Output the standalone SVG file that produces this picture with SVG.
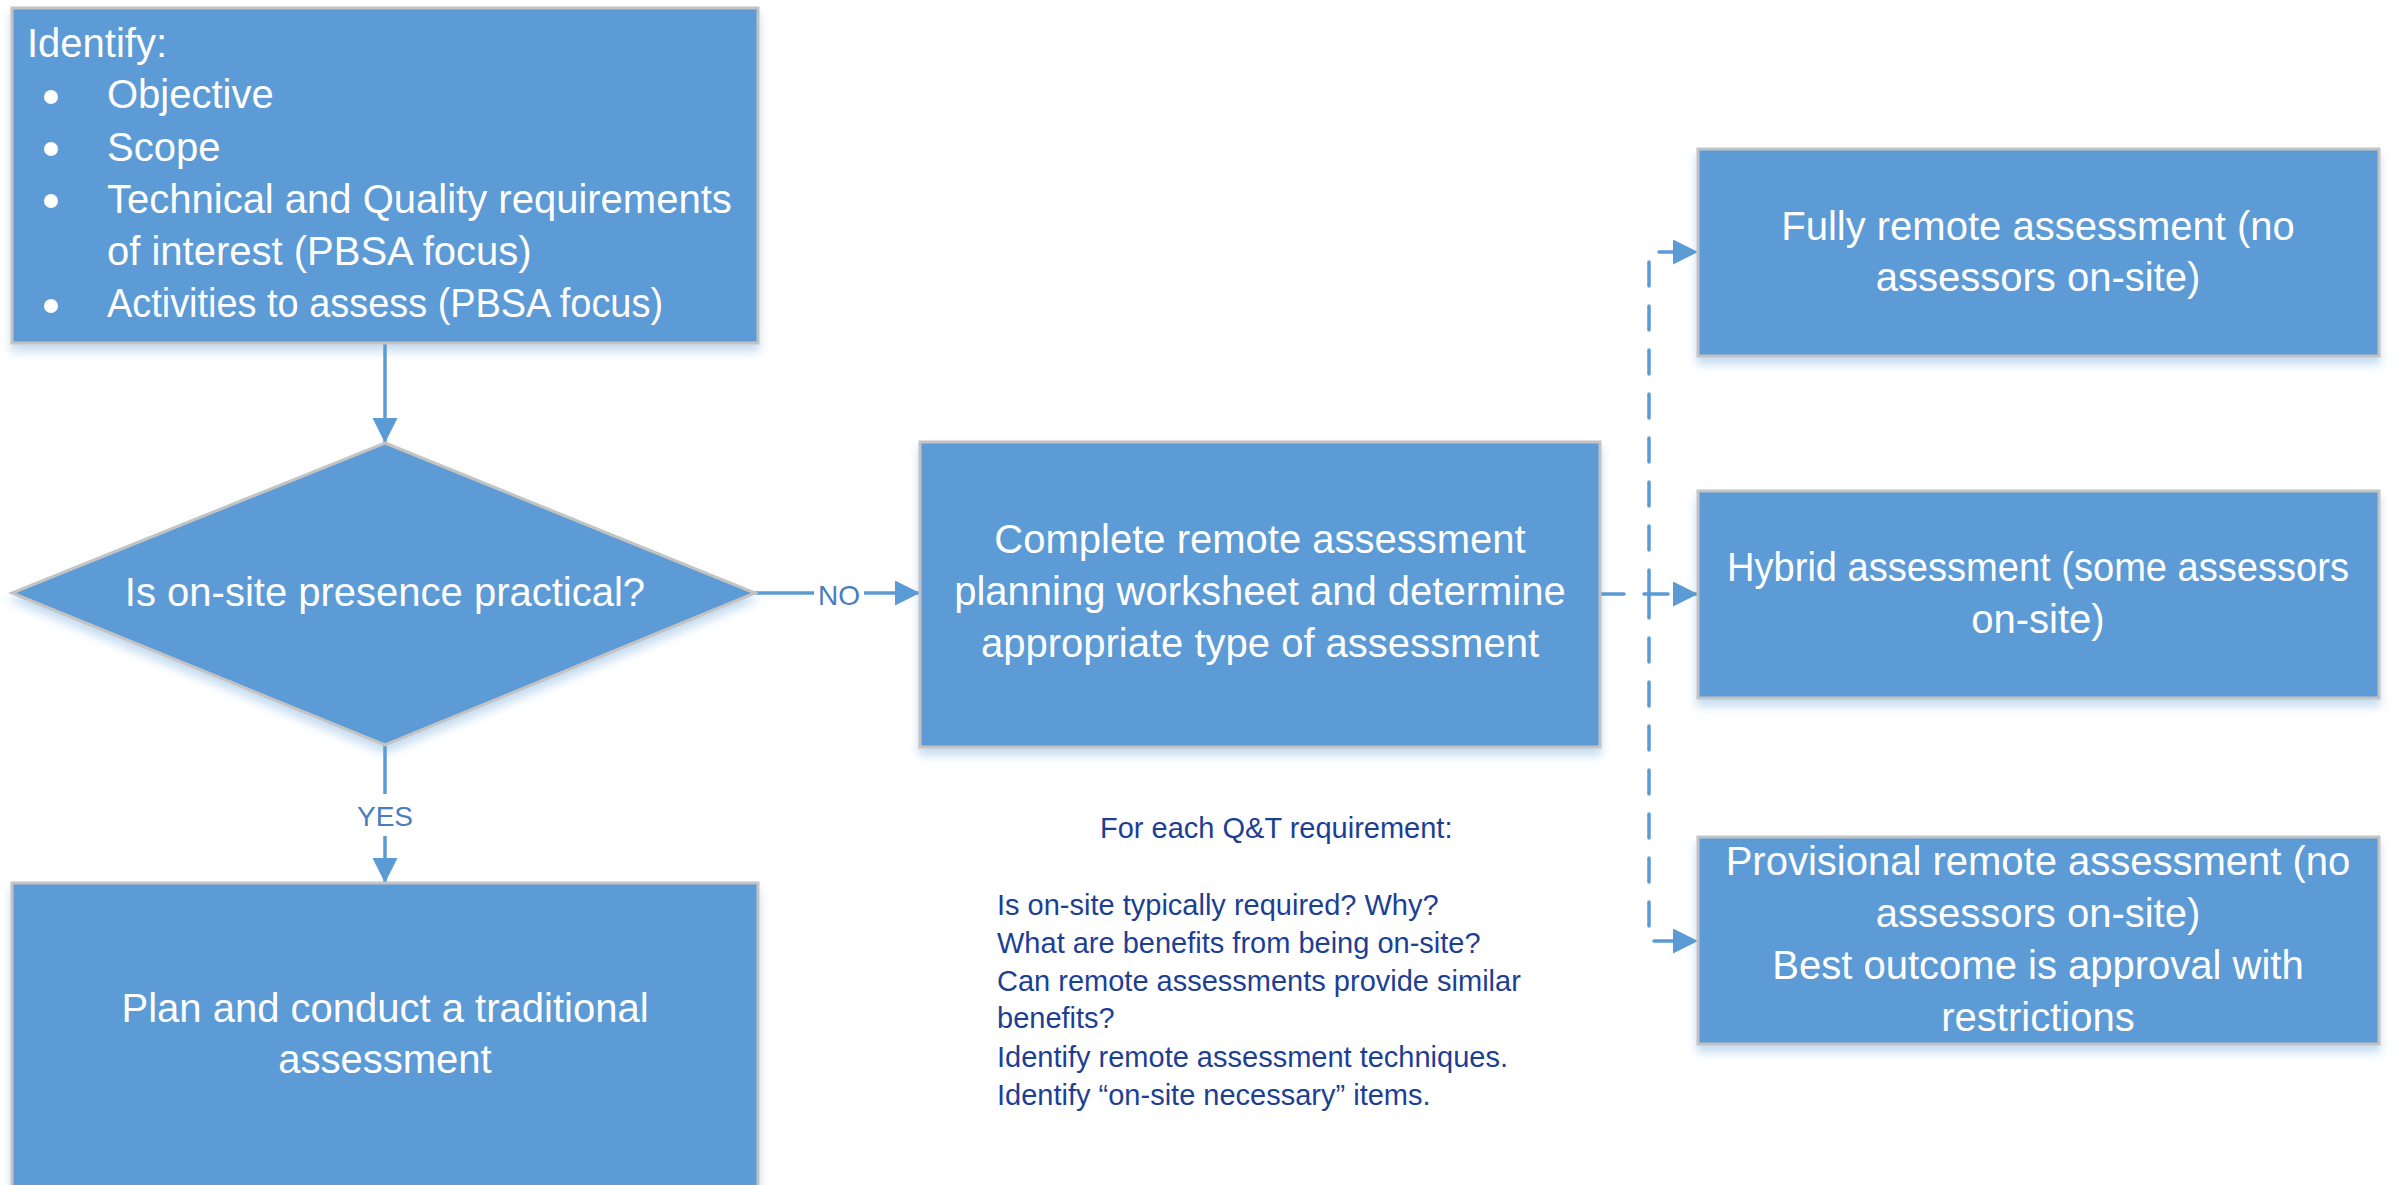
<svg xmlns="http://www.w3.org/2000/svg" width="2397" height="1185" viewBox="0 0 2397 1185">
<style>
.box{fill:#5b9bd5;stroke:#c3c3c3;stroke-width:3;filter:url(#sh)}
.t{font-family:"Liberation Sans",Arial,sans-serif;font-size:40px;fill:#ffffff}
.c{text-anchor:middle}
.ln{fill:none;stroke:#5b9bd5;stroke-width:3.5}
.dash{stroke-dasharray:24 20;stroke-linecap:round}
.lbl{font-family:"Liberation Sans",Arial,sans-serif;font-size:28px;fill:#4a7dbb;text-anchor:middle}
.note{font-family:"Liberation Sans",Arial,sans-serif;font-size:29px;fill:#1c3f94}
</style>
<defs>
<filter id="sh" x="-5%" y="-5%" width="110%" height="120%">
<feDropShadow dx="0" dy="7" stdDeviation="5" flood-color="#5b9bd5" flood-opacity="0.35"/>
</filter>
<marker id="ah" markerUnits="userSpaceOnUse" markerWidth="26" markerHeight="26" refX="25" refY="12.5" orient="auto">
<path d="M0,0 L25,12.5 L0,25 z" fill="#5b9bd5" stroke="none"/>
</marker>
</defs>
<rect width="2397" height="1185" fill="#ffffff"/>

<g id="connectors">
<path class="ln" d="M385,343 V443" marker-end="url(#ah)"/>
<path class="ln" d="M385,745 V883" marker-end="url(#ah)"/>
<rect x="352" y="794" width="66" height="42" fill="#ffffff"/>
<text class="lbl" x="385" y="826">YES</text>
<path class="ln" d="M755,593 H920" marker-end="url(#ah)"/>
<rect x="814" y="574" width="50" height="38" fill="#ffffff"/>
<text class="lbl" x="839" y="605">NO</text>
<path class="ln dash" d="M1600,594 H1698" marker-end="url(#ah)"/>
<path class="ln dash" d="M1649,594 V252 H1698" marker-end="url(#ah)"/>
<path class="ln dash" d="M1649,594 V941 H1698" marker-end="url(#ah)"/>
</g>

<g id="identify">
<rect class="box" x="12" y="8" width="746" height="335"/>
<text class="t" x="27" y="57">Identify:</text>
<circle cx="51" cy="97" r="7" fill="#ffffff"/>
<circle cx="51" cy="149" r="7" fill="#ffffff"/>
<circle cx="51" cy="201" r="7" fill="#ffffff"/>
<circle cx="51" cy="306" r="7" fill="#ffffff"/>
<text class="t" x="107" y="108">Objective</text>
<text class="t" x="107" y="161">Scope</text>
<text class="t" x="107" y="213">Technical and Quality requirements</text>
<text class="t" x="107" y="265">of interest (PBSA focus)</text>
<text class="t" x="107" y="317" textLength="556" lengthAdjust="spacingAndGlyphs">Activities to assess (PBSA focus)</text>
</g>

<g id="decision">
<polygon class="box" points="385,443 755,593 385,745 12,593"/>
<text class="t c" x="385" y="606">Is on-site presence practical?</text>
</g>

<g id="traditional">
<rect class="box" x="12" y="883" width="746" height="330"/>
<text class="t c" x="385" y="1022">Plan and conduct a traditional</text>
<text class="t c" x="385" y="1073">assessment</text>
</g>

<g id="worksheet">
<rect class="box" x="920" y="442" width="680" height="305"/>
<text class="t c" x="1260" y="553">Complete remote assessment</text>
<text class="t c" x="1260" y="605">planning worksheet and determine</text>
<text class="t c" x="1260" y="657">appropriate type of assessment</text>
</g>

<g id="note">
<text class="note" x="1100" y="838">For each Q&amp;T requirement:</text>
<text class="note" x="997" y="915">Is on-site typically required? Why?</text>
<text class="note" x="997" y="953">What are benefits from being on-site?</text>
<text class="note" x="997" y="991">Can remote assessments provide similar</text>
<text class="note" x="997" y="1028">benefits?</text>
<text class="note" x="997" y="1067">Identify remote assessment techniques.</text>
<text class="note" x="997" y="1105">Identify “on-site necessary” items.</text>
</g>

<g id="fully-remote">
<rect class="box" x="1698" y="149" width="681" height="207"/>
<text class="t c" x="2038" y="240">Fully remote assessment (no</text>
<text class="t c" x="2038" y="291">assessors on-site)</text>
</g>

<g id="hybrid">
<rect class="box" x="1698" y="491" width="681" height="207"/>
<text class="t c" x="2038" y="581" textLength="622" lengthAdjust="spacingAndGlyphs">Hybrid assessment (some assessors</text>
<text class="t c" x="2038" y="633">on-site)</text>
</g>

<g id="provisional">
<rect class="box" x="1698" y="837" width="681" height="207"/>
<text class="t c" x="2038" y="875">Provisional remote assessment (no</text>
<text class="t c" x="2038" y="927">assessors on-site)</text>
<text class="t c" x="2038" y="979">Best outcome is approval with</text>
<text class="t c" x="2038" y="1031">restrictions</text>
</g>
</svg>
